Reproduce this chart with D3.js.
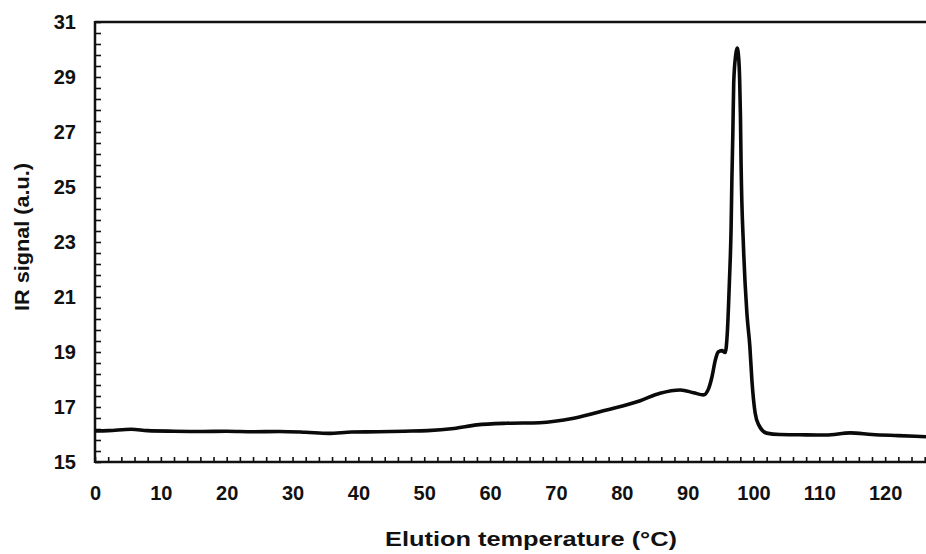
<!DOCTYPE html>
<html>
<head>
<meta charset="utf-8">
<script src="https://cdn.jsdelivr.net/npm/d3@7"></script>
<style>
  html, body { margin: 0; padding: 0; background: #fff; }
  svg { display: block; }
  text { font-family: "Liberation Sans", Arial, sans-serif; font-weight: bold; fill: #111; }
</style>
</head>
<body>
<svg id="chart" width="926" height="554"></svg>
<script>
// ---- data ----
const temperature = [0, 2, 5.5, 8, 12, 16, 20, 24, 28, 32, 35.5, 39, 43, 47, 50.5, 54.5, 58, 62.5, 67.5, 72.7, 77.7, 82.8, 85.8, 88.9, 90.9, 92.4, 93.2, 93.7, 94.2, 94.64, 95.2, 95.7, 96.05, 96.35, 96.6, 96.72, 96.87, 97.0, 97.3, 97.52, 97.75, 97.9, 98.02, 98.12, 98.48, 99.0, 99.45, 99.76, 100.26, 100.8, 102.0, 104, 107, 111, 114.7, 118, 122, 126.2];
const irSignal    = [16.13, 16.14, 16.19, 16.14, 16.12, 16.11, 16.12, 16.10, 16.11, 16.08, 16.04, 16.09, 16.10, 16.12, 16.14, 16.22, 16.35, 16.41, 16.43, 16.59, 16.89, 17.23, 17.50, 17.62, 17.52, 17.44, 17.68, 18.10, 18.70, 19.00, 19.05, 18.98, 19.80, 21.60, 23.50, 25.25, 27.00, 28.80, 29.80, 30.05, 29.70, 28.90, 27.60, 25.80, 22.83, 20.41, 19.20, 17.98, 16.77, 16.35, 16.05, 16.00, 15.99, 15.98, 16.06, 16.00, 15.96, 15.92];
const xTickLabels = [0, 10, 20, 30, 40, 50, 60, 70, 80, 90, 100, 110, 120];
const yTickLabels = [15, 17, 19, 21, 23, 25, 27, 29, 31];
const xMinorTicks = d3.range(0, 127, 2);
const yMinorTicks = d3.range(0, 41).map(i => 15 + i * 0.4);
const xTitle = "Elution temperature  (\u00B0C)";
const yTitle = "IR signal  (a.u.)";

// ---- layout ----
const svg = d3.select("#chart");
const mLeft = 95, mRight = 926, mTop = 22, mBottom = 462;

const x = d3.scaleLinear().domain([0, 126.2]).range([mLeft, mRight]);
const y = d3.scaleLinear().domain([15, 31]).range([mBottom, mTop]);

// minor ticks (inward)
svg.append("g")
  .attr("transform", `translate(${mLeft},0)`)
  .call(d3.axisLeft(y).tickValues(yMinorTicks).tickSize(-6).tickFormat(""))
  .call(g => g.select(".domain").remove())
  .call(g => g.selectAll("line").attr("stroke", "#111").attr("stroke-width", 1.6));

svg.append("g")
  .attr("transform", `translate(0,${mBottom})`)
  .call(d3.axisBottom(x).tickValues(xMinorTicks).tickSize(-5).tickFormat(""))
  .call(g => g.select(".domain").remove())
  .call(g => g.selectAll("line").attr("stroke", "#111").attr("stroke-width", 1.6));

// tick labels
svg.append("g")
  .attr("transform", `translate(${mLeft},0)`)
  .call(d3.axisLeft(y).tickValues(yTickLabels).tickSize(0).tickPadding(19).tickFormat(d3.format("d")))
  .call(g => g.select(".domain").remove())
  .call(g => g.selectAll("text").attr("font-size", 20).attr("font-family", "Liberation Sans, Arial, sans-serif").attr("font-weight", "bold").attr("fill", "#111"));

svg.append("g")
  .attr("transform", `translate(0,${mBottom})`)
  .call(d3.axisBottom(x).tickValues(xTickLabels).tickSize(0).tickPadding(24).tickFormat(d3.format("d")))
  .call(g => g.select(".domain").remove())
  .call(g => g.selectAll("text").attr("font-size", 20).attr("font-family", "Liberation Sans, Arial, sans-serif").attr("font-weight", "bold").attr("fill", "#111"));

// frame lines
const frame = svg.append("g").attr("stroke", "#111").attr("stroke-width", 2.5).attr("fill", "none");
frame.append("line").attr("x1", x(0)).attr("x2", x(0)).attr("y1", y(31) - 1).attr("y2", y(15) + 1);
frame.append("line").attr("x1", x(0)).attr("x2", mRight).attr("y1", y(15)).attr("y2", y(15));
frame.append("line").attr("x1", x(0)).attr("x2", mRight).attr("y1", y(31)).attr("y2", y(31));

// data line
const pts = temperature.map((t, i) => [t, irSignal[i]]);
svg.append("path")
  .datum(pts)
  .attr("fill", "none")
  .attr("stroke", "#0a0a0a")
  .attr("stroke-width", 3.6)
  .attr("stroke-linejoin", "round")
  .attr("d", d3.line().x(d => x(d[0])).y(d => y(d[1])).curve(d3.curveMonotoneX));

// axis titles
svg.append("text")
  .attr("x", 531).attr("y", 546)
  .attr("text-anchor", "middle")
  .attr("font-size", 21)
  .attr("textLength", 292)
  .attr("lengthAdjust", "spacingAndGlyphs")
  .text(xTitle);

svg.append("text")
  .attr("transform", "translate(29,237) rotate(-90)")
  .attr("text-anchor", "middle")
  .attr("font-size", 20)
  .attr("textLength", 148)
  .attr("lengthAdjust", "spacingAndGlyphs")
  .text(yTitle);
</script>
</body>
</html>
